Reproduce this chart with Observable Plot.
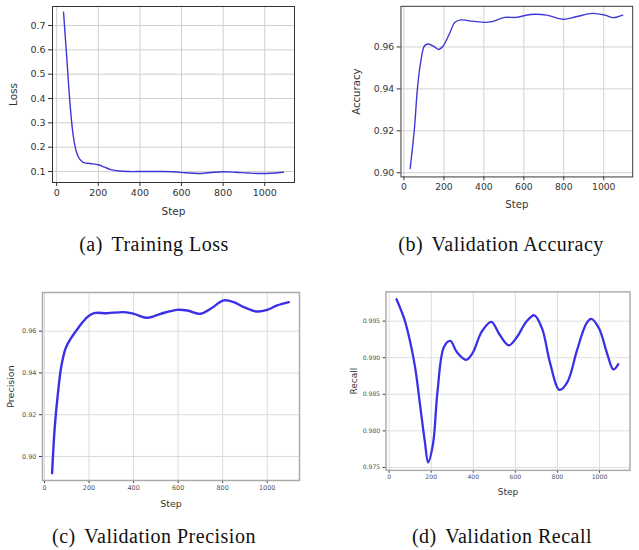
<!DOCTYPE html>
<html><head><meta charset="utf-8">
<script src="https://cdn.jsdelivr.net/npm/d3@7"></script>
<script src="https://cdn.jsdelivr.net/npm/@observablehq/plot@0.6"></script>
<style>
html,body{margin:0;padding:0;background:#fff;overflow:hidden;}
#root{position:relative;width:639px;height:550px;overflow:hidden;background:#fff;}
.panel{position:absolute;}
.panel svg{overflow:visible;display:block;}
.cap{position:absolute;font-family:"Liberation Serif","Times New Roman",serif;font-size:20px;line-height:20px;white-space:nowrap;color:#111;letter-spacing:0.5px;transform:translateX(-50%);}
.cap span{margin-left:3px;}
.big g[aria-label="x-axis label"], .big g[aria-label="y-axis label"]{font-size:10.5px;}
.small g[aria-label="x-axis label"], .small g[aria-label="y-axis label"]{font-size:9.5px;}
.small g[aria-label="x-axis tick label"], .small g[aria-label="y-axis tick label"]{fill:#555;}
</style></head><body><div id="root"></div>
<script>
// ---- data ----
const stepTicks = [0, 200, 400, 600, 800, 1000];

const lossSteps  = [33, 50, 65, 80, 95, 110, 130, 160, 200, 230, 260, 300, 350, 400, 450, 500, 560, 620, 680, 740, 800, 860, 920, 980, 1030, 1090];
const lossValues = [0.755, 0.55, 0.37, 0.245, 0.18, 0.152, 0.137, 0.133, 0.128, 0.118, 0.108, 0.102, 0.100, 0.100, 0.100, 0.100, 0.099, 0.095, 0.092, 0.096, 0.099, 0.097, 0.094, 0.092, 0.093, 0.097];
const lossTicks  = [0.1, 0.2, 0.3, 0.4, 0.5, 0.6, 0.7];

const accSteps  = [31, 52, 68, 84, 103, 121, 149, 173, 197, 230, 254, 286, 343, 408, 440, 505, 561, 634, 715, 796, 861, 942, 1006, 1047, 1095];
const accValues = [0.902, 0.9207, 0.9407, 0.953, 0.9606, 0.9614, 0.9603, 0.9588, 0.9606, 0.9668, 0.9717, 0.9729, 0.9723, 0.9717, 0.9721, 0.9741, 0.9741, 0.9755, 0.9752, 0.9732, 0.9744, 0.976, 0.9752, 0.974, 0.9752];
const accTicks  = [0.90, 0.92, 0.94, 0.96];

const precSteps  = [34, 46, 60, 75, 94, 117, 154, 192, 222, 281, 356, 401, 461, 521, 596, 641, 701, 746, 805, 850, 895, 955, 1000, 1045, 1097];
const precValues = [0.892, 0.914, 0.930, 0.9428, 0.9515, 0.9563, 0.9619, 0.9667, 0.9686, 0.9686, 0.9691, 0.9683, 0.9664, 0.9683, 0.9702, 0.9699, 0.9683, 0.9707, 0.9747, 0.9739, 0.9715, 0.9694, 0.9702, 0.9723, 0.9739];
const precTicks  = [0.90, 0.92, 0.94, 0.96];

const recSteps  = [35, 72, 102, 125, 148, 170, 185, 208, 230, 261, 291, 321, 366, 396, 441, 486, 524, 569, 607, 652, 690, 727, 765, 810, 848, 893, 938, 961, 998, 1036, 1066, 1089];
const recValues = [0.998, 0.9953, 0.9919, 0.9884, 0.9833, 0.9785, 0.9757, 0.9781, 0.9854, 0.9915, 0.9923, 0.9908, 0.9897, 0.9906, 0.9936, 0.9949, 0.9932, 0.9917, 0.9928, 0.9949, 0.9958, 0.9940, 0.9893, 0.9856, 0.9867, 0.9910, 0.9947, 0.9953, 0.9940, 0.9906, 0.9884, 0.9891];
const recTicks  = [0.975, 0.980, 0.985, 0.990, 0.995];

const captions = [
  {tag: "(a)", text: "Training Loss"},
  {tag: "(b)", text: "Validation Accuracy"},
  {tag: "(c)", text: "Validation Precision"},
  {tag: "(d)", text: "Validation Recall"}
];

// ---- drawing ----
const root = document.getElementById("root");

function panel(cfg) {
  const data = cfg.steps.map((s, i) => ({step: s, value: cfg.values[i]}));
  const svg = Plot.plot({
    width: cfg.width, height: cfg.height,
    marginLeft: cfg.ml, marginRight: cfg.mr, marginTop: cfg.mt, marginBottom: cfg.mb,
    style: {fontFamily: '"DejaVu Sans", sans-serif', fontSize: cfg.tickFont + "px", color: "#333", background: "transparent", overflow: "visible"},
    x: {domain: cfg.xDomain},
    y: {domain: cfg.yDomain},
    marks: [
      Plot.gridX({ticks: stepTicks, stroke: cfg.grid, strokeOpacity: 1}),
      Plot.gridY({ticks: cfg.yTicks, stroke: cfg.grid, strokeOpacity: 1}),
      Plot.lineY(data, {x: "step", y: "value", stroke: cfg.color, strokeWidth: cfg.lw, curve: "catmull-rom"}),
      Plot.axisX({ticks: stepTicks, tickSize: cfg.ts, tickPadding: cfg.tp, tickFormat: d3.format("d"),
        label: "Step", labelAnchor: "center", labelArrow: "none", labelOffset: cfg.xlo}),
      Plot.axisY({ticks: cfg.yTicks, tickSize: cfg.ts, tickPadding: 3, tickFormat: d3.format(cfg.yFormat),
        label: cfg.yLabel, labelAnchor: "center", labelArrow: "none", labelOffset: cfg.ylo}),
      Plot.frame({stroke: cfg.frame, strokeWidth: cfg.fw})
    ]
  });
  const div = document.createElement("div");
  div.className = "panel " + cfg.cls;
  div.style.left = cfg.left + "px";
  div.style.top = cfg.top + "px";
  div.appendChild(svg);
  root.appendChild(div);
}

const bigStyle = {cls: "big", tickFont: 9.5, ts: 4, tp: 3, frame: "#333", fw: 1, grid: "#cfcfcf", color: "#3d36d6", lw: 1.4, xlo: 32};
const smallStyle = {cls: "small", tickFont: 6.5, ts: 3, tp: 2, frame: "#aaa", fw: 1.5, grid: "#dcdcdc", color: "#3b2fe8", lw: 2.4, xlo: 26};

panel({...bigStyle, steps: lossSteps, values: lossValues, yTicks: lossTicks, yFormat: ".1f", yLabel: "Loss",
  left: 0, top: 0, width: 300, height: 215, ml: 52, mr: 6, mt: 6, mb: 33,
  xDomain: [-20, 1143], yDomain: [0.055, 0.778], ylo: 43});
panel({...bigStyle, steps: accSteps, values: accValues, yTicks: accTicks, yFormat: ".2f", yLabel: "Accuracy",
  left: 320, top: 0, width: 329, height: 215, ml: 83, mr: 7, mt: 6, mb: 33,
  xDomain: [-15, 1145], yDomain: [0.898, 0.9794], ylo: 50});
panel({...smallStyle, steps: precSteps, values: precValues, yTicks: precTicks, yFormat: ".2f", yLabel: "Precision",
  left: 0, top: 280, width: 310, height: 235, ml: 42, mr: 11, mt: 12, mb: 35,
  xDomain: [-9, 1145], yDomain: [0.8885, 0.9785], ylo: 35});
panel({...smallStyle, steps: recSteps, values: recValues, yTicks: recTicks, yFormat: ".3f", yLabel: "Recall",
  left: 320, top: 280, width: 336, height: 235, ml: 69, mr: 10, mt: 12, mb: 35,
  xDomain: [-15, 1145], yDomain: [0.9746, 0.999], ylo: 37});

const capPos = [{x: 154, y: 234}, {x: 501, y: 234}, {x: 154, y: 526}, {x: 502, y: 526}];
captions.forEach((c, i) => {
  const d = document.createElement("div");
  d.className = "cap";
  d.style.left = capPos[i].x + "px";
  d.style.top = capPos[i].y + "px";
  d.append(c.tag + " ");
  const s = document.createElement("span");
  s.textContent = c.text;
  d.appendChild(s);
  root.appendChild(d);
});
</script>
</body></html>
